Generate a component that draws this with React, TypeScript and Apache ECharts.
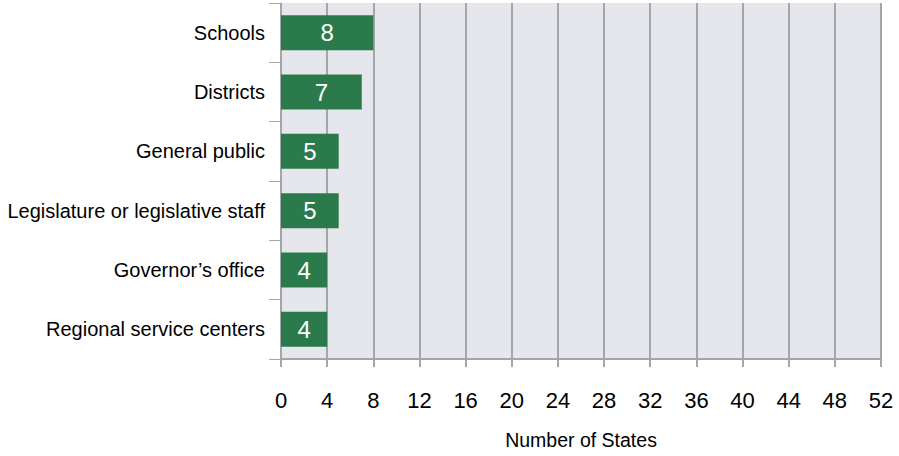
import React, { useEffect, useRef } from "react";
import * as echarts from "echarts";

const categories = [
  "Schools",
  "Districts",
  "General public",
  "Legislature or legislative staff",
  "Governor\u2019s office",
  "Regional service centers",
];
const values = [8, 7, 5, 5, 4, 4];
const xMin = 0;
const xMax = 52;
const xInterval = 4;
const xAxisTitle = "Number of States";

const FONT = "'Liberation Sans Narrow', 'Arial Narrow', 'Liberation Sans', Arial, sans-serif";

export default function App() {
  const ref = useRef<HTMLDivElement>(null);
  useEffect(() => {
    if (!ref.current) return;
    const chart = echarts.init(ref.current, undefined, { renderer: "svg" });
    chart.setOption({
      animation: false,
      grid: {
        left: 281,
        right: 18,
        top: 3,
        bottom: 97,
        show: true,
        backgroundColor: "#e6e6ed",
        borderWidth: 0,
        containLabel: false,
        outerBoundsMode: "none",
      },
      xAxis: {
        type: "value",
        min: xMin,
        max: xMax,
        interval: xInterval,
        name: xAxisTitle,
        nameLocation: "middle",
        nameGap: 71,
        nameTextStyle: { color: "#000", fontSize: 19.5, fontFamily: FONT },
        axisLine: { show: true, lineStyle: { color: "#a6a6a6", width: 2 } },
        axisTick: { show: true, length: 8, lineStyle: { color: "#a6a6a6", width: 2 } },
        axisLabel: { color: "#000", fontSize: 22, fontFamily: FONT, margin: 30 },
        splitLine: { show: true, lineStyle: { color: "#a6a6a6", width: 2 } },
      },
      yAxis: {
        type: "category",
        data: categories,
        inverse: true,
        axisLine: { show: true, lineStyle: { color: "#a6a6a6", width: 1 } },
        axisTick: { show: true, length: 12, lineStyle: { color: "#a6a6a6", width: 1 } },
        axisLabel: { color: "#000", fontSize: 20, fontFamily: FONT, margin: 16, padding: [4, 0, 0, 0] },
        splitLine: { show: false },
      },
      series: [
        {
          type: "bar",
          data: values,
          barWidth: "59%",
          itemStyle: { color: "#2b7a4b" },
          label: {
            show: true,
            position: "inside",
            color: "#fff",
            fontSize: 24,
            fontFamily: FONT,
          },
        },
      ],
    });
    return () => chart.dispose();
  }, []);
  return <div ref={ref} style={{ width: 899, height: 456, position: "absolute", left: 0, top: 0 }} />;
}
